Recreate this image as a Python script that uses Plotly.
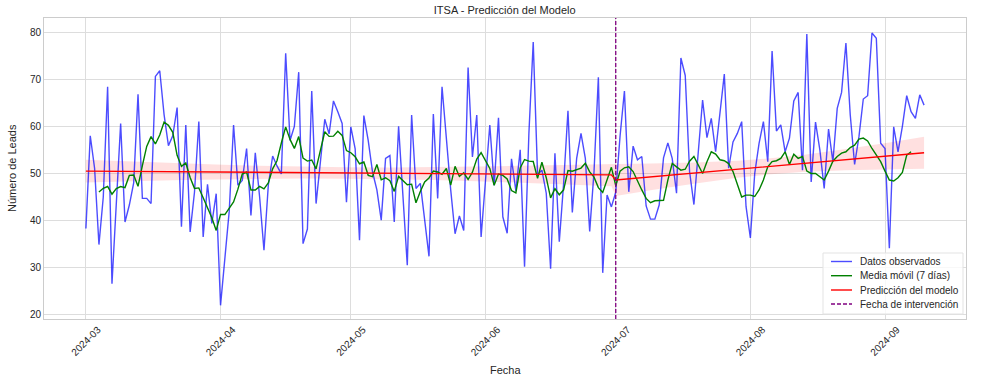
import pandas as pd
import plotly.graph_objects as go

leads_mar = [38.3, 58.0, 51.1, 34.9, 45.0, 68.4, 26.6, 44.0, 60.6, 39.7,
             43.3, 48.0, 66.8, 44.7, 44.7, 43.6, 70.6, 71.8, 62.5, 55.9,
             58.0, 64.0, 38.7, 60.3, 37.6, 46.0, 61.0, 36.5, 47.7, 39.4, 45.7]
leads_apr = [22.0, 32.0, 42.0, 60.3, 47.5, 48.5, 55.3, 41.1, 54.4, 45.0,
             33.7, 47.5, 53.7, 51.6, 49.9, 75.5, 57.0, 60.0, 71.5, 35.1,
             38.2, 67.5, 43.6, 52.5, 61.5, 58.4, 65.4, 63.1, 60.6, 43.9]
leads_may = [59.9, 55.2, 35.8, 62.3, 57.0, 50.3, 46.5, 40.1, 53.2, 53.8,
             39.7, 60.0, 46.0, 30.5, 62.4, 46.8, 47.9, 40.5, 32.4, 62.6,
             44.7, 68.4, 57.0, 46.5, 37.2, 41.0, 37.9, 72.5, 53.5, 62.4, 36.5]
leads_jun = [48.2, 60.3, 47.5, 61.8, 40.8, 37.3, 53.1, 46.3, 55.0, 30.2,
             58.5, 77.9, 49.7, 50.7, 45.8, 29.8, 54.3, 35.5, 47.9, 63.3,
             41.7, 53.2, 58.5, 53.2, 37.7, 50.4, 70.4, 28.9, 45.4, 42.9]
leads_jul = [46.0, 58.0, 67.5, 46.1, 55.8, 52.9, 53.6, 43.1, 40.3, 40.3,
             43.3, 53.3, 56.5, 53.2, 45.8, 74.5, 70.8, 50.4, 43.4, 55.3,
             65.6, 57.6, 61.7, 54.6, 62.4, 71.1, 51.1, 56.7, 58.5, 61.0, 43.0]
leads_aug = [36.3, 50.0, 56.4, 61.0, 52.5, 76.0, 59.0, 60.3, 54.6, 57.5,
             65.4, 67.2, 50.7, 79.6, 48.2, 60.9, 55.0, 46.8, 59.4, 52.5,
             63.8, 67.2, 77.7, 62.4, 51.9, 57.8, 65.8, 66.5, 79.8, 78.7, 56.4]
leads_sep = [55.3, 34.1, 59.9, 54.6, 60.0, 66.5, 63.1, 61.7, 66.7, 64.5]

# ---- 7-day moving average after the intervention, as drawn in the chart
#      (2024-07-01 .. 2024-09-07) ----
moving_avg_post = [47.4, 50.5, 51.2, 51.4, 50.4, 48.3, 46.5, 44.7, 43.8, 44.2,
                   44.3, 44.3, 48.6, 52.1, 51.4, 50.7, 50.9, 52.6, 53.6, 51.8,
                   50.0, 52.5, 54.6, 54.1, 52.9, 52.7, 52.1, 50.4, 47.5, 45.0,
                   45.4, 45.4, 45.1, 46.5, 48.6, 51.4, 52.5, 52.7, 53.2, 54.6,
                   51.9, 54.1, 53.2, 53.6, 50.5, 50.0, 50.0, 49.3, 48.6, 50.5,
                   52.6, 53.6, 54.3, 54.6, 55.5, 56.0, 57.3, 57.5, 56.9, 55.3,
                   53.9, 52.5, 50.5, 48.6, 48.4, 49.1, 50.2, 53.9, 54.6]

start_date = "2024-03-01"
intervention_date = "2024-07-01"

# ---- model prediction (segment end points) ----
pred_dates = ["2024-03-01", "2024-06-30", "2024-07-01", "2024-09-10"]
pred_values = [50.5, 49.7, 48.6, 54.4]

# ---- confidence band knots ----
band_dates = ["2024-03-01", "2024-03-11", "2024-03-21", "2024-03-31", "2024-04-10",
              "2024-04-20", "2024-04-30", "2024-05-10", "2024-05-20", "2024-05-30",
              "2024-06-09", "2024-06-19", "2024-06-30",
              "2024-07-01", "2024-07-09", "2024-07-19", "2024-07-29", "2024-08-05",
              "2024-08-13", "2024-08-23", "2024-09-02", "2024-09-10"]
band_upper = [52.90, 52.54, 52.21, 51.89, 51.63, 51.42, 51.30, 51.28, 51.33, 51.45,
              51.63, 51.83, 52.10,
              52.00, 52.09, 52.31, 52.70, 53.16, 53.92, 55.17, 56.59, 57.80]
band_lower = [48.10, 48.32, 48.53, 48.71, 48.85, 48.92, 48.90, 48.80, 48.61, 48.35,
              48.05, 47.71, 47.30,
              45.20, 46.41, 47.83, 49.08, 49.76, 50.30, 50.69, 50.91, 51.00]

y_ticks = [20, 30, 40, 50, 60, 70, 80]
x_ticks = ["2024-03-01", "2024-04-01", "2024-05-01", "2024-06-01",
           "2024-07-01", "2024-08-01", "2024-09-01"]
x_tick_labels = ["2024-03", "2024-04", "2024-05", "2024-06", "2024-07", "2024-08", "2024-09"]

legend_labels = ["Datos observados", "Media móvil (7 días)",
                 "Predicción del modelo", "Fecha de intervención"]

leads = leads_mar + leads_apr + leads_may + leads_jun + leads_jul + leads_aug + leads_sep
dates = pd.date_range(start_date, periods=len(leads), freq="D")

# moving average: centred 7-day mean before the intervention, chart values after it
moving_avg = pd.Series(leads).rolling(7, center=True).mean().tolist()
i0 = (pd.Timestamp(intervention_date) - pd.Timestamp(start_date)).days
moving_avg[i0:i0 + len(moving_avg_post)] = moving_avg_post

y_min, y_max = 19.1, 83.0
x_min = dates[0] - pd.Timedelta(days=9.65)
x_max = dates[-1] + pd.Timedelta(days=9.65)

FONT = "Liberation Sans, Arial, sans-serif"
TXT = "#262626"
W, H = 982, 389
ML, MR, MT, MB = 44, 16, 18, 70
PW, PH = W - ML - MR, H - MT - MB

BLUE = "rgba(0,0,255,0.7)"
GREEN = "green"
RED = "red"
PURPLE = "purple"
DASH = "4px,2px"

fig = go.Figure()

fig.add_trace(go.Scatter(
    x=list(band_dates) + list(band_dates[::-1]),
    y=list(band_upper) + list(band_lower[::-1]),
    fill="toself", fillcolor="rgba(255,0,0,0.12)", line=dict(width=0),
    hoverinfo="skip", showlegend=False, mode="lines"))

fig.add_trace(go.Scatter(x=dates, y=leads, mode="lines", name=legend_labels[0],
                         line=dict(color=BLUE, width=1.4)))
fig.add_trace(go.Scatter(x=dates, y=moving_avg, mode="lines", name=legend_labels[1],
                         line=dict(color=GREEN, width=1.4)))
fig.add_trace(go.Scatter(x=pred_dates, y=pred_values, mode="lines", name=legend_labels[2],
                         line=dict(color=RED, width=1.4)))
fig.add_trace(go.Scatter(x=[intervention_date, intervention_date], y=[y_min, y_max], mode="lines",
                         name=legend_labels[3],
                         line=dict(color=PURPLE, width=1.3, dash=DASH)))


def px_x(px):
    return (px - ML) / PW


def px_y(py):
    return (H - MB - py) / PH


shapes = []
annotations = []

# legend box (compact, like the original)
shapes.append(dict(type="rect", xref="paper", yref="paper", layer="above",
                   x0=px_x(823), x1=px_x(963), y0=px_y(314), y1=px_y(253),
                   fillcolor="rgba(255,255,255,0.8)", line=dict(color="#e3e3e3", width=1)))
legend_rows = [261.5, 275.7, 290.0, 304.0]
legend_colors = [BLUE, GREEN, RED, PURPLE]
for i, (lab, col, ry) in enumerate(zip(legend_labels, legend_colors, legend_rows)):
    shapes.append(dict(type="line", xref="paper", yref="paper", layer="above",
                       x0=px_x(831), x1=px_x(852), y0=px_y(ry), y1=px_y(ry),
                       line=dict(color=col, width=1.4, dash=DASH if i == 3 else "solid")))
    annotations.append(dict(text=lab, xref="paper", yref="paper", x=px_x(858), y=px_y(ry),
                            xanchor="left", yanchor="middle", showarrow=False,
                            font=dict(size=10, color=TXT)))

# axis titles
annotations.append(dict(text="Fecha", xref="paper", yref="paper", x=px_x(505), y=px_y(370),
                        xanchor="center", yanchor="middle", showarrow=False,
                        font=dict(size=11, color=TXT)))
annotations.append(dict(text="Número de Leads", xref="paper", yref="paper", x=px_x(12),
                        y=px_y(168), xanchor="center", yanchor="middle", textangle=-90,
                        showarrow=False, font=dict(size=11, color=TXT)))

fig.update_layout(
    width=W, height=H,
    margin=dict(l=ML, r=MR, t=MT, b=MB, autoexpand=False),
    paper_bgcolor="white", plot_bgcolor="white",
    font=dict(family=FONT, size=10, color=TXT),
    title=dict(text="ITSA - Predicción del Modelo", x=0.514, xanchor="center",
               y=1 - 10 / 389, yanchor="middle", yref="container",
               font=dict(size=11, color=TXT)),
    showlegend=False,
    shapes=shapes, annotations=annotations,
)

fig.update_xaxes(
    type="date", range=[x_min, x_max], automargin=False,
    tickvals=x_ticks, ticktext=x_tick_labels, tickangle=-45,
    showgrid=True, gridcolor="#dddddd", gridwidth=1,
    showline=True, linecolor="#cccccc", linewidth=1, mirror=True,
    ticks="", zeroline=False, ticklabelshift=12,
    tickfont=dict(size=10, color=TXT),
)
fig.update_yaxes(
    range=[y_min, y_max], tickvals=y_ticks, automargin=False,
    showgrid=True, gridcolor="#dddddd", gridwidth=1,
    showline=True, linecolor="#cccccc", linewidth=1, mirror=True,
    ticks="", zeroline=False,
    tickfont=dict(size=10, color=TXT),
)

fig.write_html("out.html", config={"displayModeBar": False},
               post_script="document.body.style.margin='0';document.body.style.padding='0';"
                           "document.body.style.overflow='hidden';")
